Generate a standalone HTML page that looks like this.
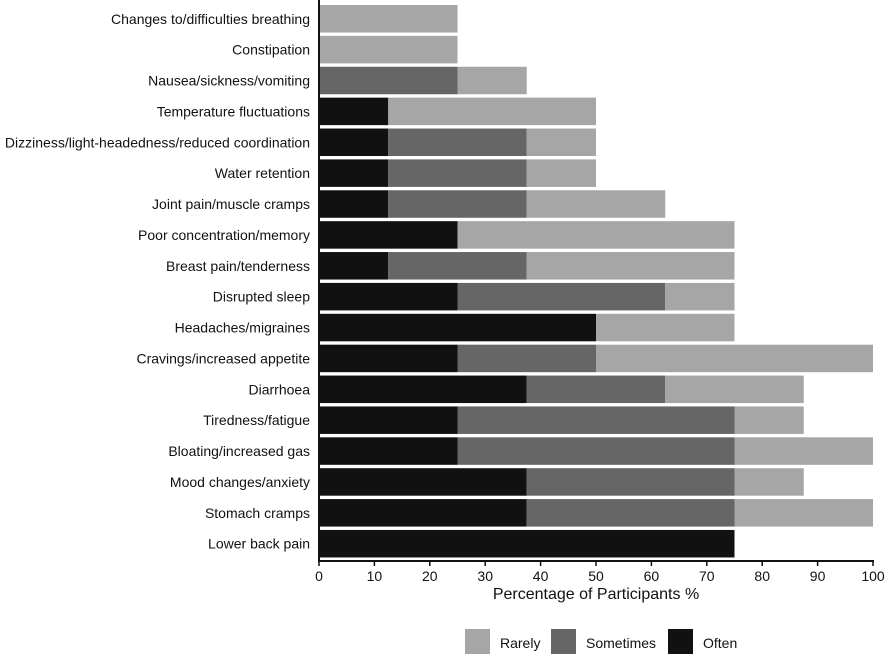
<!DOCTYPE html>
<html><head><meta charset="utf-8"><style>
body{margin:0;background:#fff;font-family:"Liberation Sans",Arial,sans-serif}
svg text{font-family:"Liberation Sans",Arial,sans-serif;fill:#111}
</style></head><body>
<svg id="chart" width="886" height="656" xmlns="http://www.w3.org/2000/svg">
<g id="bars"></g>
<g id="ylabels"></g>
<g id="xaxis"></g>
<text x="596" y="599" font-size="16" text-anchor="middle">Percentage of Participants %</text>
<g>
<rect x="465" y="629" width="25" height="25" fill="#a6a6a6"/>
<text x="500" y="648" font-size="14">Rarely</text>
<rect x="551" y="629" width="25" height="25" fill="#666666"/>
<text x="586" y="648" font-size="14">Sometimes</text>
<rect x="668" y="629" width="25" height="25" fill="#111111"/>
<text x="703" y="648" font-size="14">Often</text>
</g>
</svg>
<script>
const categories=["Changes to/difficulties breathing","Constipation","Nausea/sickness/vomiting","Temperature fluctuations","Dizziness/light-headedness/reduced coordination","Water retention","Joint pain/muscle cramps","Poor concentration/memory","Breast pain/tenderness","Disrupted sleep","Headaches/migraines","Cravings/increased appetite","Diarrhoea","Tiredness/fatigue","Bloating/increased gas","Mood changes/anxiety","Stomach cramps","Lower back pain"];
const often=[0,0,0,12.5,12.5,12.5,12.5,25,12.5,25,50,25,37.5,25,25,37.5,37.5,75];
const sometimes=[0,0,25,0,25,25,25,0,25,37.5,0,25,25,50,50,37.5,37.5,0];
const rarely=[25,25,12.5,37.5,12.5,12.5,25,50,37.5,12.5,25,50,25,12.5,25,12.5,25,0];
const xTicks=[0,10,20,30,40,50,60,70,80,90,100];
const NS="http://www.w3.org/2000/svg";
const x0=319,x1=873,top0=5,pitch=30.88,bh=27.5,axisY=561;
const xs=v=>x0+(x1-x0)*v/100;
const ys=i=>top0+i*pitch;
function mk(t,a,p){const e=document.createElementNS(NS,t);for(const k in a)e.setAttribute(k,a[k]);p.appendChild(e);return e;}
const gb=document.getElementById('bars'),gl=document.getElementById('ylabels'),gx=document.getElementById('xaxis');
categories.forEach((c,i)=>{
  const segs=[[often[i],'#111111','often'],[sometimes[i],'#666666','sometimes'],[rarely[i],'#a6a6a6','rarely']];
  let acc=0;
  segs.forEach(s=>{
    if(s[0]>0){
      const r=mk('rect',{x:xs(acc),y:ys(i),width:xs(acc+s[0])-xs(acc),height:bh,fill:s[1]},gb);
      
      
    }
    acc+=s[0];
  });
  const t=mk('text',{x:310,y:ys(i)+bh/2+5,'font-size':14,'text-anchor':'end'},gl);
  t.textContent=c;
  
  
});
const yl=mk('line',{x1:x0,y1:0,x2:x0,y2:axisY+1,stroke:'#111','stroke-width':2},gx);


const xl=mk('line',{x1:x0-1,y1:axisY,x2:x1+1,y2:axisY,stroke:'#111','stroke-width':2},gx);


xTicks.forEach(v=>{
  const tk=mk('line',{x1:xs(v),y1:axisY,x2:xs(v),y2:axisY+5,stroke:'#111','stroke-width':1.5},gx);
  
  
  const t=mk('text',{x:xs(v),y:axisY+20,'font-size':14,'text-anchor':'middle'},gx);
  t.textContent=v;
  
  
});
</script>
</body></html>
